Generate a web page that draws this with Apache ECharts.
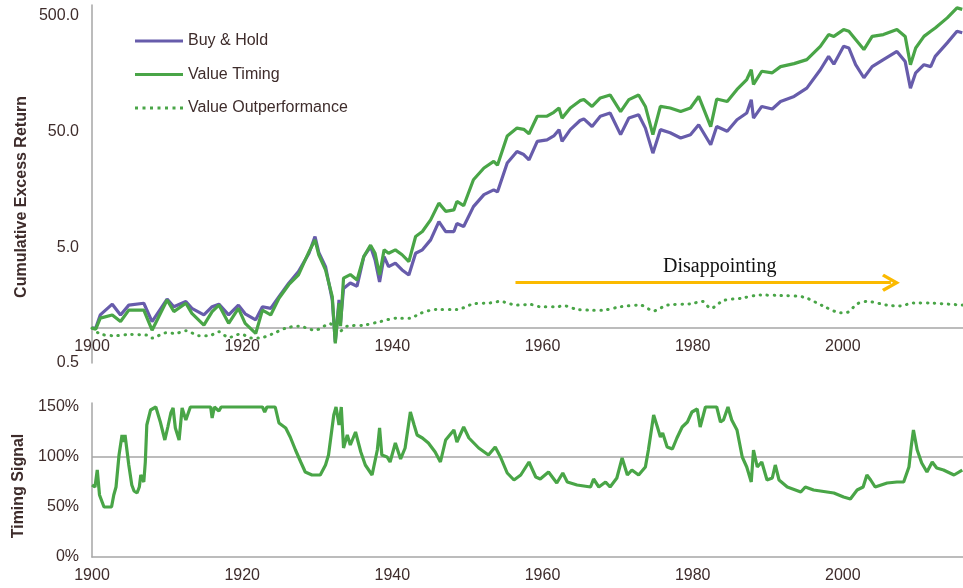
<!DOCTYPE html>
<html>
<head>
<meta charset="utf-8">
<script src="https://cdn.jsdelivr.net/npm/echarts@6/dist/echarts.min.js"></script>
<style>
html,body{margin:0;padding:0;background:#fff;}
#chart{width:963px;height:588px;}
</style>
</head>
<body>
<div id="chart"></div>
<script>
// ---------- data ----------
const perfYears = [1900.0,1900.5,1901.1,1902.7,1903.8,1904.9,1906.9,1908.0,1910.0,1910.9,1912.5,1913.3,1914.9,1916.0,1916.9,1918.2,1919.5,1920.4,1921.8,1922.7,1923.8,1924.9,1926.2,1927.5,1928.9,1929.7,1930.2,1931.1,1932.0,1932.4,1932.9,1933.1,1933.5,1934.4,1935.3,1936.2,1937.1,1937.7,1938.3,1938.9,1939.5,1940.4,1941.3,1942.2,1943.1,1944.0,1945.1,1946.2,1947.1,1948.2,1948.6,1949.5,1950.8,1952.2,1953.5,1954.0,1955.3,1956.6,1957.5,1958.2,1959.3,1960.6,1961.5,1962.2,1962.6,1963.7,1965.0,1965.5,1966.6,1967.7,1969.0,1970.4,1971.5,1972.8,1973.7,1974.7,1975.7,1977.0,1978.4,1979.7,1980.8,1982.4,1983.2,1984.6,1985.9,1987.2,1987.8,1988.1,1989.2,1990.6,1991.7,1993.5,1995.2,1997.0,1998.1,1998.8,2000.1,2000.8,2001.7,2002.8,2003.9,2005.4,2007.2,2008.3,2009.0,2009.7,2010.8,2011.7,2012.3,2013.9,2015.2,2015.9];
const buyHold = [1.0,1.0,1.30,1.61,1.30,1.58,1.64,1.14,1.78,1.53,1.70,1.48,1.30,1.53,1.61,1.30,1.58,1.33,1.18,1.53,1.48,1.87,2.44,3.08,4.43,6.18,4.5,3.40,1.75,0.76,1.75,1.12,2.2,2.45,2.3,4.15,5.06,3.88,2.5,4.15,3.40,3.64,3.18,2.88,4.43,4.74,5.78,8.32,6.82,6.82,8.0,7.53,11.2,14.2,15.6,15.0,26.6,33.5,31.5,28.4,40.9,42.2,45.6,51.7,40.9,51.7,62,64,55.1,67.5,72,46.8,65.2,69.5,53.3,32.4,51.7,48.6,43.8,46.8,57,38.3,55,50,63,72,93.8,65,82,78,90.5,100,118,170,222,190,271,262,188,145,181,208,245,200,118,160,188,181,222,290,365,355];
const valueTiming = [1.0,0.98,1.22,1.30,1.14,1.43,1.43,0.96,1.75,1.39,1.64,1.34,1.06,1.39,1.58,1.10,1.48,1.10,0.90,1.43,1.30,1.81,2.37,2.88,4.57,5.78,4.3,3.18,1.87,0.74,1.64,1.04,2.7,2.9,2.6,4.15,5.2,4.43,2.88,4.74,4.43,4.74,4.3,3.75,6.18,6.82,8.6,12.0,10.2,10.5,12.4,11.4,19.1,24.1,27.5,25.5,45.6,53.3,52,47.7,67.5,67.5,73,79.5,65,79.5,92,94,82,97,103,74,94,103,82,46.8,82,79.5,74,79.5,100,55,95,90.5,115,140,170,127,165,160,181,192,208,271,342,330,378,365,310,254,330,342,378,330,188,262,330,365,390,477,582,565];

const outYears = [1900.0,1901.1,1903.1,1904.9,1907.3,1908.0,1909.8,1911.1,1912.5,1914.3,1915.6,1916.9,1918.2,1919.8,1921.3,1922.2,1924.0,1925.8,1927.5,1929.7,1931.7,1932.9,1934.0,1936.2,1938.4,1940.6,1942.4,1943.7,1945.9,1948.6,1950.8,1953.0,1954.3,1956.6,1958.4,1959.7,1961.9,1962.8,1964.6,1966.4,1968.0,1970.4,1973.0,1974.8,1976.6,1979.7,1981.3,1982.4,1984.1,1986.4,1989.0,1991.7,1994.8,1997.4,1999.7,2000.6,2001.9,2003.2,2005.9,2007.6,2009.4,2012.1,2015.9];
const outValues = [1.0,0.89,0.86,0.88,0.87,0.82,0.91,0.90,0.95,0.86,0.86,0.93,0.83,0.89,0.82,0.82,0.89,1.0,1.04,0.96,1.09,0.93,1.04,1.06,1.14,1.22,1.22,1.34,1.45,1.45,1.62,1.65,1.70,1.58,1.60,1.53,1.53,1.56,1.45,1.43,1.43,1.53,1.58,1.41,1.58,1.62,1.70,1.48,1.73,1.81,1.93,1.91,1.85,1.55,1.36,1.37,1.62,1.70,1.58,1.55,1.65,1.64,1.58];

const sigYears = [1900.0,1900.4,1900.7,1901.0,1901.4,1901.6,1902.6,1902.9,1903.2,1903.6,1904.0,1904.2,1904.4,1904.9,1905.3,1905.6,1906.0,1906.3,1906.5,1906.9,1907.1,1907.3,1907.8,1908.5,1909.1,1909.7,1910.1,1910.5,1910.8,1911.1,1911.6,1912.0,1912.5,1913.1,1915.8,1916.0,1916.3,1916.9,1917.2,1922.7,1923.0,1923.3,1924.4,1924.9,1925.8,1926.4,1927.1,1927.8,1928.4,1929.3,1930.4,1931.1,1931.5,1932.2,1932.5,1932.9,1933.2,1933.5,1934.0,1934.4,1935.1,1935.8,1936.4,1937.3,1938.0,1938.3,1938.6,1939.3,1939.7,1940.4,1941.1,1941.7,1942.4,1942.9,1943.3,1944.0,1944.8,1945.7,1946.4,1947.1,1948.2,1948.6,1949.5,1950.2,1951.5,1952.8,1953.7,1954.4,1955.3,1956.2,1957.1,1958.2,1959.1,1959.7,1960.8,1961.9,1962.7,1963.3,1964.6,1966.4,1966.8,1967.5,1968.4,1969.0,1969.9,1970.6,1971.3,1971.9,1972.8,1973.7,1974.1,1974.8,1975.3,1975.7,1976.0,1976.6,1977.3,1977.9,1978.6,1979.3,1979.9,1980.6,1981.0,1981.7,1983.2,1983.7,1984.1,1984.7,1985.2,1985.9,1986.6,1987.2,1987.8,1988.1,1988.6,1989.2,1989.9,1990.6,1991.0,1991.5,1992.6,1994.4,1995.0,1996.1,1998.8,2000.1,2001.0,2001.9,2002.7,2003.2,2003.7,2004.3,2005.9,2007.2,2008.1,2008.8,2009.1,2009.4,2009.9,2010.5,2011.2,2011.9,2012.5,2013.4,2014.8,2015.9];
const sigValues = [72,70,87,62,54,50,50,62,70,102,122,115,122,92,72,66,64,70,82,75,95,132,147,150,135,117,130,144,149,129,117,149,137,150,150,139,150,146,150,150,145,150,150,134,129,120,107,95,85,82,82,92,102,142,150,132,150,109,122,112,125,105,92,82,107,129,102,100,95,114,98,109,145,132,122,119,114,105,95,117,127,115,130,119,109,102,110,100,84,77,82,95,80,78,85,74,84,75,72,70,78,70,75,70,79,99,82,87,82,90,107,142,130,120,124,110,108,119,130,135,145,148,130,150,150,135,137,150,137,127,100,90,75,107,90,95,77,79,92,77,70,65,70,67,64,60,58,67,70,82,77,70,74,75,75,90,110,127,107,94,85,95,89,87,82,87];

const yearTicks = [1900, 1920, 1940, 1960, 1980, 2000];
const returnTicks = [0.5, 5, 50, 500];
const signalTicks = [0, 50, 100, 150];
const signalRef = 100;
const seriesNames = ['Buy & Hold', 'Value Timing', 'Value Outperformance'];
const arrowStart = [1956.4, 2.47];
const arrowEnd = [2006.4, 2.47];
const noteText = 'Disappointing';
const notePos = [1983.6, 3.4];

// ---------- chart ----------
const PURPLE = '#675cab';
const GREEN = '#49a547';
const GRAY = '#a6a6a6';
const TXT = '#3e2c2b';
const FONT = "'Liberation Sans', Arial, sans-serif";

const zip = (xs, ys) => xs.map((x, i) => [x, ys[i]]);

const chart = echarts.init(document.getElementById('chart'), null, {renderer: 'canvas'});

const xCommon = {
  type: 'value', min: 1900, max: 2016,
  axisTick: {show: false}, splitLine: {show: false},
  axisLine: {show: true, onZero: false, lineStyle: {color: GRAY, width: 1.5}},
  axisLabel: {color: TXT, fontSize: 16, fontFamily: FONT, margin: 11,
              customValues: yearTicks, formatter: v => String(v)}
};

const SOLID_ICON = 'path://M0,0 L48,0 L48,3.2 L0,3.2 Z';
const DOT_ICON = 'path://M0,0h3v3h-3Z M7.5,0h3v3h-3Z M15,0h3v3h-3Z M22.5,0h3v3h-3Z M30,0h3v3h-3Z M37.5,0h3v3h-3Z M45,0h3v3h-3Z';

chart.setOption({
  animation: false,
  textStyle: {fontFamily: FONT},
  grid: [
    {left: 92, top: 5, width: 871, height: 358},
    {left: 92, top: 403, width: 871, height: 154}
  ],
  legend: {
    data: [
      {name: seriesNames[0], icon: SOLID_ICON},
      {name: seriesNames[1], icon: SOLID_ICON},
      {name: seriesNames[2], icon: DOT_ICON}
    ],
    orient: 'vertical', left: 135, top: 33, padding: 0,
    itemWidth: 48, itemHeight: 14, itemGap: 17.5, symbolKeepAspect: true,
    textStyle: {color: TXT, fontSize: 16, fontFamily: FONT},
    selectedMode: false
  },
  xAxis: [
    Object.assign({}, xCommon, {gridIndex: 0, offset: -35}),
    Object.assign({}, xCommon, {gridIndex: 1})
  ],
  yAxis: [
    { // data axis (log scale)
      type: 'log', logBase: 10, gridIndex: 0, min: 0.5, max: 616,
      axisLine: {show: true, lineStyle: {color: GRAY, width: 1.5}},
      axisTick: {show: false}, splitLine: {show: false}, minorSplitLine: {show: false},
      axisLabel: {show: false}
    },
    { // label axis for the log scale
      type: 'value', gridIndex: 0, position: 'left',
      min: Math.log10(0.5), max: Math.log10(616),
      axisLine: {show: false}, axisTick: {show: false}, splitLine: {show: false},
      axisLabel: {
        customValues: returnTicks.map(v => Math.log10(v)),
        formatter: v => Math.pow(10, v).toFixed(1),
        color: TXT, fontSize: 16, fontFamily: FONT, margin: 13
      }
    },
    {
      type: 'value', gridIndex: 1, min: 0, max: 154,
      axisLine: {show: true, lineStyle: {color: GRAY, width: 1.5}},
      axisTick: {show: false}, splitLine: {show: false},
      axisLabel: {formatter: '{value}%', color: TXT, fontSize: 16, fontFamily: FONT, margin: 13,
                  customValues: signalTicks}
    }
  ],
  graphic: [
    {type: 'text', x: 21.5, y: 197, rotation: Math.PI / 2,
     style: {text: 'Cumulative Excess Return', align: 'center', verticalAlign: 'middle',
             font: "bold 16px 'Liberation Sans', Arial, sans-serif", fill: TXT}},
    {type: 'text', x: 18.5, y: 486, rotation: Math.PI / 2,
     style: {text: 'Timing Signal', align: 'center', verticalAlign: 'middle',
             font: "bold 16px 'Liberation Sans', Arial, sans-serif", fill: TXT}}
  ],
  series: [
    {
      name: seriesNames[0], type: 'line', xAxisIndex: 0, yAxisIndex: 0,
      data: zip(perfYears, buyHold), symbol: 'none', showSymbol: false,
      lineStyle: {color: PURPLE, width: 3.2}, itemStyle: {color: PURPLE}, z: 3
    },
    {
      name: seriesNames[1], type: 'line', xAxisIndex: 0, yAxisIndex: 0,
      data: zip(perfYears, valueTiming), symbol: 'none', showSymbol: false,
      lineStyle: {color: GREEN, width: 3.2}, itemStyle: {color: GREEN}, z: 4
    },
    {
      name: seriesNames[2], type: 'line', xAxisIndex: 0, yAxisIndex: 0,
      data: zip(outYears, outValues), symbol: 'none', showSymbol: false, smooth: 0.3,
      lineStyle: {color: GREEN, width: 3, type: [0.5, 6.5], cap: 'round'}, itemStyle: {color: GREEN}, z: 3,
      markLine: {
        silent: true, animation: false,
        symbol: ['none', 'path://M9,0 L18,15.5 L15.4,17.5 L9,6.6 L2.6,17.5 L0,15.5 Z'],
        symbolSize: [18, 18],
        lineStyle: {color: '#fbba00', width: 3, type: 'solid'},
        label: {show: false},
        data: [[{coord: arrowStart}, {coord: arrowEnd}]]
      },
      markPoint: {
        silent: true, animation: false,
        symbol: 'circle', symbolSize: 1, itemStyle: {color: 'rgba(0,0,0,0)'},
        label: {show: true, position: 'inside', formatter: noteText, color: '#111',
                fontFamily: "'Liberation Serif', 'Times New Roman', serif", fontSize: 20},
        data: [{coord: notePos}]
      }
    },
    {
      name: 'Timing Signal', type: 'line', xAxisIndex: 1, yAxisIndex: 2,
      data: zip(sigYears, sigValues), symbol: 'none', showSymbol: false,
      lineStyle: {color: GREEN, width: 3.2}, itemStyle: {color: GREEN}, z: 3,
      markLine: {
        silent: true, animation: false, symbol: 'none', z: 1,
        lineStyle: {color: GRAY, width: 1.5, type: 'solid'},
        label: {show: false},
        data: [{yAxis: signalRef}]
      }
    }
  ]
});
</script>
</body>
</html>
